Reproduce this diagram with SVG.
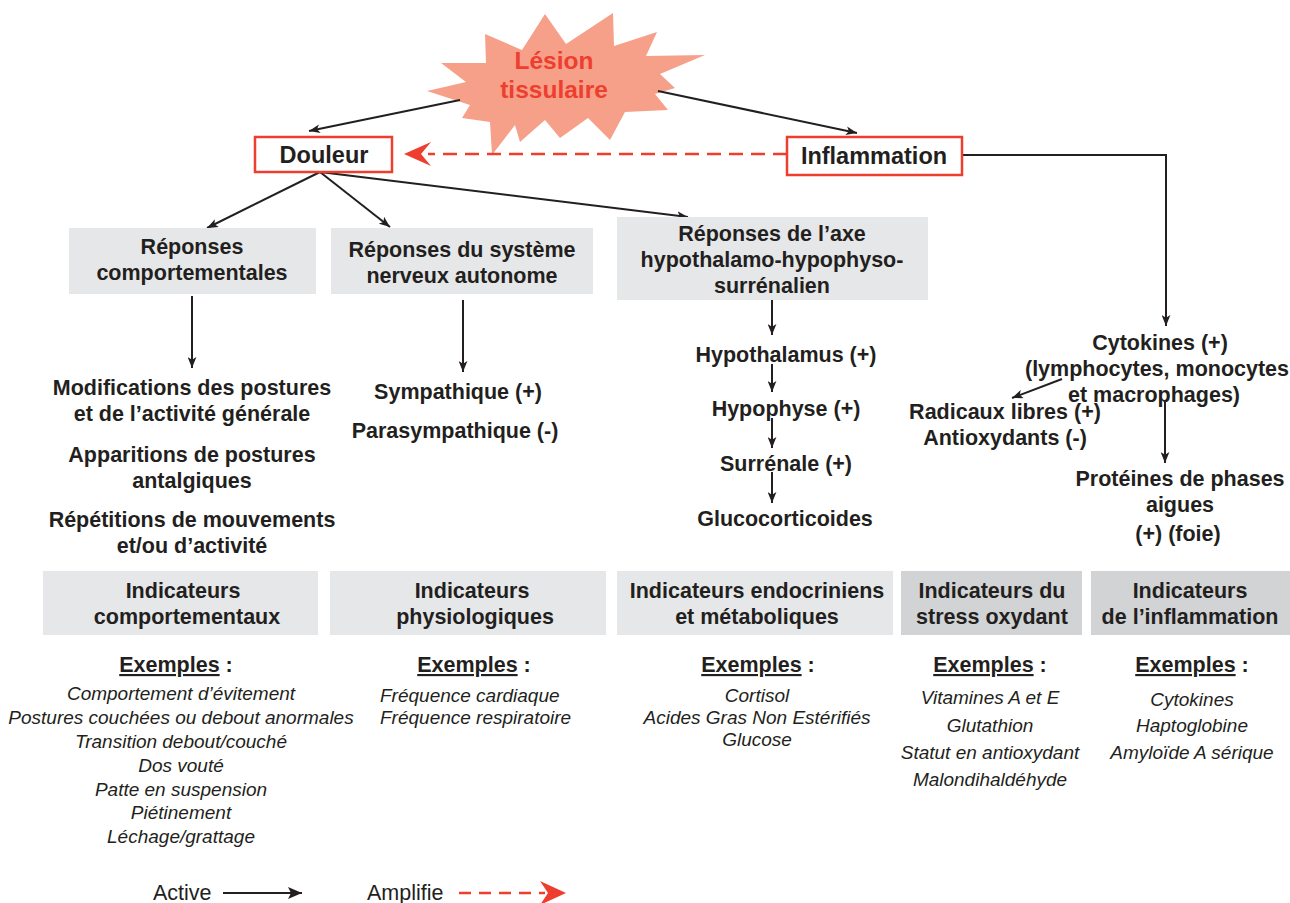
<svg xmlns="http://www.w3.org/2000/svg" width="1290" height="903" viewBox="0 0 1290 903">
<style>
.b{font-family:"Liberation Sans",Arial,sans-serif;font-weight:bold;font-size:21.5px;fill:#231f20;text-anchor:middle}
.i{font-family:"Liberation Sans",Arial,sans-serif;font-style:italic;font-size:19px;fill:#231f20;text-anchor:middle}
.h{font-family:"Liberation Sans",Arial,sans-serif;font-weight:bold;font-size:23.5px;fill:#231f20;text-anchor:middle}
.r{font-family:"Liberation Sans",Arial,sans-serif;font-size:21.5px;fill:#231f20}
.g1{fill:#e6e7e8}
.g2{fill:#d1d3d4}
.rb{fill:#fff;stroke:#ee3e2e;stroke-width:2.5}
.ln{fill:none;stroke:#231f20;stroke-width:2;marker-end:url(#arr)}
.dl{fill:none;stroke:#ee3e2e;stroke-width:2.5;stroke-dasharray:14 8}
.u{text-decoration:underline}
</style>
<defs>
<marker id="arr" viewBox="0 0 10 8" refX="10" refY="4" markerWidth="11" markerHeight="9" markerUnits="userSpaceOnUse" orient="auto">
<path d="M0,0 L10,4 L0,8 L2.5,4 z" fill="#231f20"/>
</marker>
<marker id="big" viewBox="0 0 14 12" refX="14" refY="6" markerWidth="14" markerHeight="12" markerUnits="userSpaceOnUse" orient="auto">
<path d="M0,0 L14,6 L0,12 L3,6 z" fill="#231f20"/>
</marker>
</defs>

<g id="lesion">
<polygon fill="#f6a08a" points="427,91 466,82 441,63 486,63 485,34 522,50 545,14 566,44 613,13 614,46 657,32 646,56 705,55 660,74 675,88 655,94 668,110 625,112 610,140 588,118 560,138 545,120 520,142 515,125 492,155 490,122 462,118 470,105"/>
<text x="554" y="69" class="h" style="fill:#ee3e2e;font-size:24.5px">Lésion</text>
<text x="554" y="98" class="h" style="fill:#ee3e2e;font-size:24.5px">tissulaire</text>
</g>

<g id="connectors">
<line class="ln" x1="460" y1="100" x2="309" y2="131"/>
<line class="ln" x1="658" y1="91" x2="857" y2="133"/>
<polyline class="ln" points="962,155 1166,155 1166,326"/>
<line class="ln" x1="320" y1="172" x2="207" y2="228"/>
<line class="ln" x1="320" y1="172" x2="390" y2="227"/>
<line class="ln" x1="320" y1="172" x2="688" y2="217"/>
<line class="ln" x1="192" y1="296" x2="192" y2="368"/>
<line class="ln" x1="463" y1="300" x2="463" y2="372"/>
<line class="ln" x1="772" y1="300" x2="772" y2="335"/>
<line class="ln" x1="772" y1="364" x2="772" y2="392"/>
<line class="ln" x1="772" y1="418" x2="772" y2="448"/>
<line class="ln" x1="772" y1="472" x2="772" y2="503"/>
<line class="ln" x1="1062" y1="379" x2="1012" y2="398"/>
<line class="ln" x1="1165" y1="402" x2="1165" y2="463"/>
<line class="dl" x1="787" y1="154" x2="428" y2="154"/>
<path d="M404,154 L431,142 L421,154 L431,166 z" fill="#ee3e2e"/>
</g>

<g id="douleur">
<rect class="rb" x="255" y="137" width="137" height="35"/>
<text x="324" y="163" class="h">Douleur</text>
</g>
<g id="inflammation">
<rect class="rb" x="787" y="137" width="175" height="38"/>
<text x="874" y="164" class="h">Inflammation</text>
</g>

<g id="rep-comport">
<rect class="g1" x="69" y="228" width="247" height="66"/>
<text x="192" y="254" class="b">Réponses</text>
<text x="192" y="280" class="b">comportementales</text>
</g>
<g id="rep-sna">
<rect class="g1" x="331" y="228" width="262" height="66"/>
<text x="462" y="257" class="b">Réponses du système</text>
<text x="462" y="283" class="b">nerveux autonome</text>
</g>
<g id="rep-hhs">
<rect class="g1" x="617" y="217" width="311" height="83"/>
<text x="772" y="241" class="b">Réponses de l’axe</text>
<text x="772" y="267" class="b">hypothalamo-hypophyso-</text>
<text x="772" y="293" class="b">surrénalien</text>
</g>

<g id="comport-items">
<text x="192" y="395" class="b">Modifications des postures</text>
<text x="192" y="421" class="b">et de l’activité générale</text>
<text x="192" y="462" class="b">Apparitions de postures</text>
<text x="192" y="488" class="b">antalgiques</text>
<text x="192" y="527" class="b">Répétitions de mouvements</text>
<text x="192" y="553" class="b">et/ou d’activité</text>
</g>
<g id="sna-items">
<text x="458" y="399" class="b">Sympathique (+)</text>
<text x="455" y="438" class="b">Parasympathique (-)</text>
</g>
<g id="hhs-items">
<text x="786" y="362" class="b">Hypothalamus (+)</text>
<text x="786" y="416" class="b">Hypophyse (+)</text>
<text x="786" y="471" class="b">Surrénale (+)</text>
<text x="785" y="526" class="b">Glucocorticoides</text>
</g>
<g id="cytokines">
<text x="1160" y="350" class="b">Cytokines (+)</text>
<text x="1157" y="376" class="b">(lymphocytes, monocytes</text>
<text x="1154" y="402" class="b">et macrophages)</text>
</g>
<g id="radicaux">
<text x="1005" y="419" class="b">Radicaux libres (+)</text>
<text x="1005" y="445" class="b">Antioxydants (-)</text>
</g>
<g id="proteines">
<text x="1180" y="486" class="b">Protéines de phases</text>
<text x="1180" y="512" class="b">aigues</text>
<text x="1178" y="541" class="b">(+) (foie)</text>
</g>

<g id="ind-comport">
<rect class="g1" x="43" y="571" width="275" height="64"/>
<text x="183" y="598" class="b">Indicateurs</text>
<text x="187" y="624" class="b">comportementaux</text>
</g>
<g id="ind-physio">
<rect class="g1" x="330" y="571" width="276" height="64"/>
<text x="472" y="598" class="b">Indicateurs</text>
<text x="475" y="624" class="b">physiologiques</text>
</g>
<g id="ind-endo">
<rect class="g1" x="617" y="571" width="276" height="64"/>
<text x="757" y="598" class="b">Indicateurs endocriniens</text>
<text x="757" y="624" class="b">et métaboliques</text>
</g>
<g id="ind-stress">
<rect class="g2" x="901" y="571" width="181" height="64"/>
<text x="992" y="598" class="b">Indicateurs du</text>
<text x="992" y="624" class="b">stress oxydant</text>
</g>
<g id="ind-inflam">
<rect class="g2" x="1091" y="571" width="199" height="64"/>
<text x="1190" y="598" class="b">Indicateurs</text>
<text x="1190" y="624" class="b">de l’inflammation</text>
</g>

<g id="ex-comport">
<text x="176" y="672" class="b"><tspan class="u">Exemples</tspan> :</text>
<text x="181" y="700" class="i">Comportement d’évitement</text>
<text x="181" y="724" class="i">Postures couchées ou debout anormales</text>
<text x="181" y="748" class="i">Transition debout/couché</text>
<text x="181" y="772" class="i">Dos vouté</text>
<text x="181" y="796" class="i">Patte en suspension</text>
<text x="181" y="819" class="i">Piétinement</text>
<text x="181" y="843" class="i">Léchage/grattage</text>
</g>
<g id="ex-physio">
<text x="474" y="672" class="b"><tspan class="u">Exemples</tspan> :</text>
<text x="380" y="702" class="i" style="text-anchor:start">Fréquence cardiaque</text>
<text x="380" y="724" class="i" style="text-anchor:start">Fréquence respiratoire</text>
</g>
<g id="ex-endo">
<text x="758" y="672" class="b"><tspan class="u">Exemples</tspan> :</text>
<text x="757" y="702" class="i">Cortisol</text>
<text x="757" y="724" class="i">Acides Gras Non Estérifiés</text>
<text x="757" y="746" class="i">Glucose</text>
</g>
<g id="ex-stress">
<text x="990" y="672" class="b"><tspan class="u">Exemples</tspan> :</text>
<text x="990" y="704" class="i">Vitamines A et E</text>
<text x="990" y="732" class="i">Glutathion</text>
<text x="990" y="759" class="i">Statut en antioxydant</text>
<text x="990" y="786" class="i">Malondihaldéhyde</text>
</g>
<g id="ex-inflam">
<text x="1192" y="672" class="b"><tspan class="u">Exemples</tspan> :</text>
<text x="1192" y="706" class="i">Cytokines</text>
<text x="1192" y="732" class="i">Haptoglobine</text>
<text x="1192" y="759" class="i">Amyloïde A sérique</text>
</g>

<g id="legend">
<text x="153" y="900" class="r">Active</text>
<line x1="223" y1="893" x2="302" y2="893" stroke="#231f20" stroke-width="2" marker-end="url(#big)"/>
<text x="367" y="900" class="r">Amplifie</text>
<line class="dl" x1="459" y1="893" x2="545" y2="893" style="stroke-dasharray:12 8"/>
<path d="M566,893 L540,881 L548,893 L540,905 z" fill="#ee3e2e"/>
</g>
</svg>
